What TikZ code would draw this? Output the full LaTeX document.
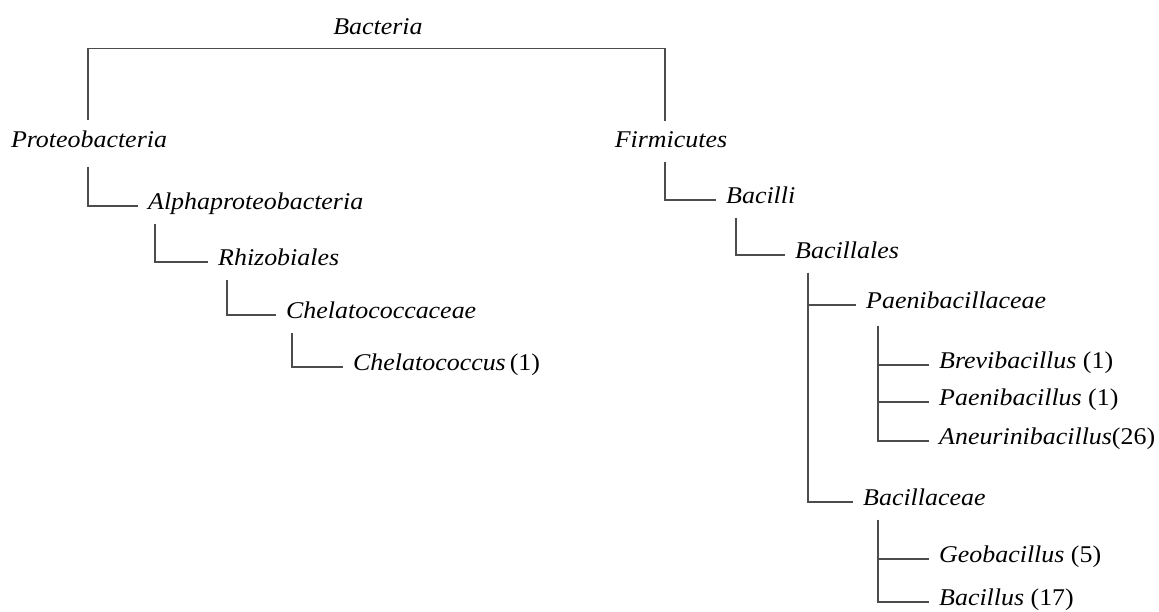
\documentclass[tikz,border=0pt]{standalone}
\usepackage{fontspec}
\setmainfont{Liberation Serif}[FakeStretch=1.08]
\usetikzlibrary{positioning}
\tikzset{
  rank/.style={inner ysep=6pt,text height=14.4pt,text depth=8.4pt,
    font=\fontsize{24}{28}\selectfont\itshape},
  taxon/.style={rank,anchor=west,inner xsep=10pt},
  branch/.style={draw=black!70,line width=1.1pt}
}
\begin{document}
\begin{tikzpicture}[x=1pt,y=-1pt]
  \useasboundingbox (0,0) rectangle (1159,611);
  % ranks
  \node[rank] (bact) at (378,31) {Bacteria};
  \node[rank] (proteo) at (89,144) {Proteobacteria};
  \node[rank] (firm) at (671,144) {Firmicutes};
  \node[taxon] (alpha) at (138,206) {Alphaproteobacteria};
  \node[taxon] (rhizo) at (208,262) {Rhizobiales};
  \node[taxon] (chelfam) at (276,315) {Chelatococcaceae};
  \node[taxon] (chel) at (343,367) {Chelatococcus\,\textup{(1)}};
  \node[taxon] (bacilli) at (716,200) {Bacilli};
  \node[taxon] (bacord) at (785,255) {Bacillales};
  \node[taxon] (paenfam) at (856,305) {Paenibacillaceae};
  \node[taxon] (bacfam) at (853,502) {Bacillaceae};
  % genera
  \node[taxon] (brevi) at (929,365) {Brevibacillus \textup{(1)}};
  \node[taxon] (paeni) at (929,402) {Paenibacillus \textup{(1)}};
  \node[taxon] (aneur) at (929,441) {Aneurinibacillus\textup{(26)}};
  \node[taxon] (geo) at (929,559) {Geobacillus \textup{(5)}};
  \node[taxon] (bacil) at (929,602) {Bacillus \textup{(17)}};
  % branches
  \draw[branch] ([xshift=-1pt,yshift=6pt]proteo.north) |- (bact.south)
    -| ([xshift=-6pt,yshift=5pt]firm.north);
  \draw[branch] ([xshift=-1pt,yshift=-5pt]proteo.south) |- (alpha.west);
  \draw[branch] ([xshift=17pt]alpha.south west) |- (rhizo.west);
  \draw[branch] ([xshift=19pt]rhizo.south west) |- (chelfam.west);
  \draw[branch] ([xshift=16pt]chelfam.south west) |- (chel.west);
  \draw[branch] ([xshift=-6pt]firm.south) |- (bacilli.west);
  \draw[branch] ([xshift=20pt]bacilli.south west) |- (bacord.west);
  \draw[branch] ([xshift=23pt]bacord.south west) |- (paenfam.west);
  \draw[branch] ([xshift=23pt]bacord.south west) |- (bacfam.west);
  \foreach \g in {brevi,paeni,aneur}
    \draw[branch] ([xshift=22pt,yshift=-3pt]paenfam.south west) |- (\g.west);
  \foreach \g in {geo,bacil}
    \draw[branch] ([xshift=25pt]bacfam.south west) |- (\g.west);
\end{tikzpicture}
\end{document}
